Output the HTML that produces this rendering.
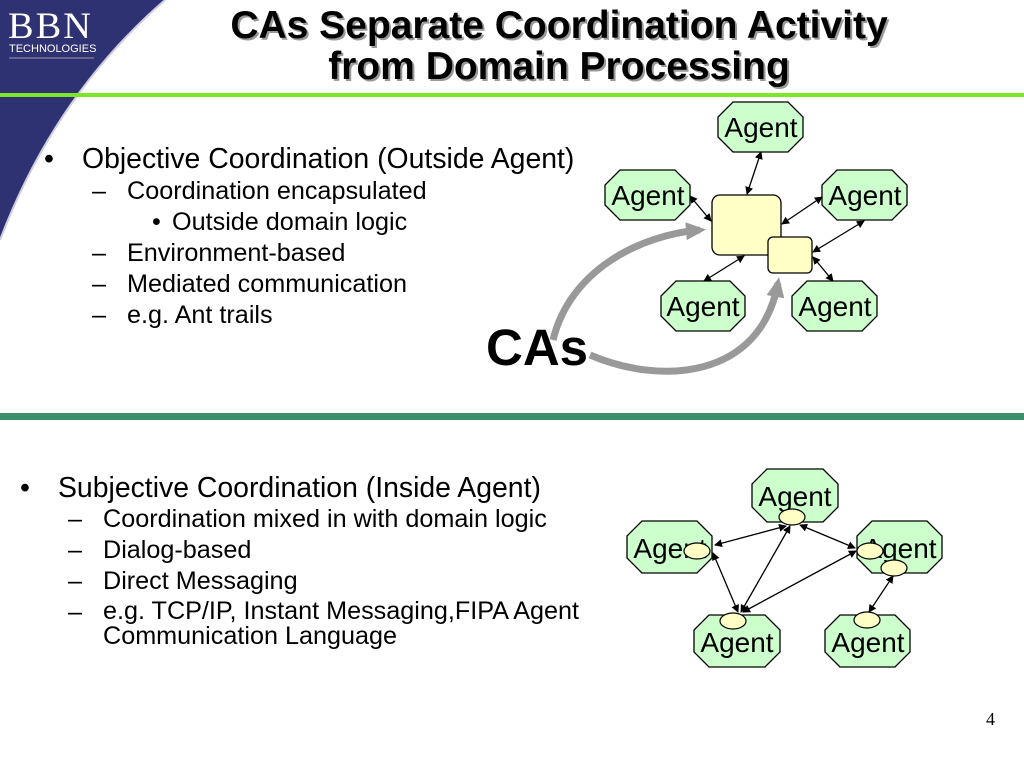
<!DOCTYPE html>
<html><head><meta charset="utf-8"><style>
body{margin:0;width:1024px;height:768px;background:#fff;position:relative;overflow:hidden;font-family:"Liberation Sans",Arial,sans-serif}
.t{position:absolute;white-space:nowrap;color:#000;line-height:1}
.a{font-size:28.4px}.b{font-size:25.2px}
</style></head><body>
<svg width="1024" height="768" style="position:absolute;left:0;top:0">
<defs>
<marker id="a" markerWidth="8" markerHeight="8" refX="7" refY="4" orient="auto-start-reverse" markerUnits="userSpaceOnUse"><path d="M0,0 L8,4 L0,8 z" fill="#000"/></marker>
<marker id="g" markerWidth="22" markerHeight="22" refX="14" refY="11" orient="auto" markerUnits="userSpaceOnUse"><path d="M0,2 L20,11 L0,20 z" fill="#999"/></marker>
</defs>
<path d="M0,0 L165,0 Q55,95 0,240 Z" fill="#2e3272"/>
<path d="M165,0 Q55,95 0,240" fill="none" stroke="#ccd" stroke-width="2"/>
<text x="8" y="38" fill="#fff" font-family="Liberation Serif" font-size="37" letter-spacing="2" textLength="85" lengthAdjust="spacingAndGlyphs">BBN</text>
<text x="9" y="52" fill="#fff" font-size="11">TECHNOLOGIES</text>
<line x1="9" y1="58" x2="94" y2="58" stroke="#99a" stroke-width="1"/>
<rect x="0" y="93" width="1024" height="4" fill="#7fe52a"/>
<rect x="0" y="413" width="1024" height="7" fill="#3f8f6c"/>
<g stroke="#000" stroke-width="1.3" fill="none" marker-start="url(#a)" marker-end="url(#a)">
<line x1="761" y1="152" x2="747" y2="194"/>
<line x1="690" y1="196" x2="711" y2="221"/>
<line x1="822" y1="197" x2="782" y2="224"/>
<line x1="864" y1="221" x2="813" y2="252"/>
<line x1="704" y1="281" x2="744" y2="256"/>
<line x1="813" y1="257" x2="833" y2="281"/>
</g>
<path d="M553,340 C570,270 640,235 700,230" fill="none" stroke="#999" stroke-width="7" marker-end="url(#g)"/>
<path d="M590,355 C660,385 760,380 778,283" fill="none" stroke="#999" stroke-width="7" marker-end="url(#g)"/>
<g fill="#ffffc6" stroke="#000" stroke-width="1.3">
<rect x="712" y="195" width="69" height="60" rx="8"/>
<rect x="768" y="237" width="44" height="36" rx="5"/>
</g>
<g fill="#ccffcc" stroke="#000" stroke-width="1.3">
<polygon points="733,102 788,102 803,117 803,137 788,152 733,152 718,137 718,117"/>
<polygon points="620,170 675,170 690,185 690,205 675,220 620,220 605,205 605,185"/>
<polygon points="837,170 892,170 907,185 907,205 892,220 837,220 822,205 822,185"/>
<polygon points="676,281 730,281 745,296 745,316 730,331 676,331 661,316 661,296"/>
<polygon points="807,281 862,281 877,296 877,316 862,331 807,331 792,316 792,296"/>
<polygon points="767,469 823,469 838,484 838,507 823,522 767,522 752,507 752,484"/>
<polygon points="642,521 697,521 712,536 712,558 697,573 642,573 627,558 627,536"/>
<polygon points="872,521 927,521 942,536 942,558 927,573 872,573 857,558 857,536"/>
<polygon points="709,615 765,615 780,630 780,652 765,667 709,667 694,652 694,630"/>
<polygon points="840,615 895,615 910,630 910,652 895,667 840,667 825,652 825,630"/>
</g>
<g font-size="28" text-anchor="middle" fill="#000">
<text x="761" y="137">Agent</text>
<text x="648" y="205">Agent</text>
<text x="865" y="205">Agent</text>
<text x="703" y="316">Agent</text>
<text x="835" y="316">Agent</text>
<text x="795" y="506">Agent</text>
<text x="670" y="558">Agent</text>
<text x="900" y="558">Agent</text>
<text x="737" y="652">Agent</text>
<text x="868" y="652">Agent</text>
</g>
<g stroke="#000" stroke-width="1.3" fill="none" marker-start="url(#a)" marker-end="url(#a)">
<line x1="786" y1="526" x2="715" y2="545"/>
<line x1="800" y1="525" x2="855" y2="548"/>
<line x1="713" y1="553" x2="738" y2="612"/>
<line x1="790" y1="526" x2="741" y2="612"/>
<line x1="856" y1="551" x2="743" y2="612"/>
<line x1="893" y1="576" x2="869" y2="612"/>
</g>
<g fill="#ffffc6" stroke="#000" stroke-width="1.2">
<ellipse cx="792" cy="517" rx="13" ry="8"/>
<ellipse cx="697" cy="551" rx="13" ry="8"/>
<ellipse cx="870" cy="551" rx="13" ry="8"/>
<ellipse cx="894" cy="568" rx="13" ry="8"/>
<ellipse cx="733" cy="621" rx="13" ry="8"/>
<ellipse cx="867" cy="620" rx="13" ry="8"/>
</g>
<g font-size="39" font-weight="bold" text-anchor="middle">
<text x="561" y="40" fill="#999">CAs Separate Coordination Activity</text>
<text x="561" y="81" fill="#999">from Domain Processing</text>
<text x="559" y="38" fill="#000">CAs Separate Coordination Activity</text>
<text x="559" y="79" fill="#000">from Domain Processing</text>
</g>
</svg>
<div class="t a" style="left:44px;top:145px">•</div>
<div class="t a" style="left:82px;top:145px">Objective Coordination (Outside Agent)</div>
<div class="t b" style="left:92px;top:179px">–</div>
<div class="t b" style="left:127px;top:179px">Coordination encapsulated</div>
<div class="t b" style="left:152px;top:210px">•</div>
<div class="t b" style="left:172px;top:210px">Outside domain logic</div>
<div class="t b" style="left:92px;top:241px">–</div>
<div class="t b" style="left:127px;top:241px">Environment-based</div>
<div class="t b" style="left:92px;top:272px">–</div>
<div class="t b" style="left:127px;top:272px">Mediated communication</div>
<div class="t b" style="left:92px;top:303px">–</div>
<div class="t b" style="left:127px;top:303px">e.g. Ant trails</div>
<div class="t" style="left:486px;top:322px;font-size:51px;font-weight:bold">CAs</div>
<div class="t a" style="left:20px;top:474px">•</div>
<div class="t a" style="left:58px;top:474px">Subjective Coordination (Inside Agent)</div>
<div class="t b" style="left:68px;top:507px">–</div>
<div class="t b" style="left:103px;top:507px">Coordination mixed in with domain logic</div>
<div class="t b" style="left:68px;top:538px">–</div>
<div class="t b" style="left:103px;top:538px">Dialog-based</div>
<div class="t b" style="left:68px;top:569px">–</div>
<div class="t b" style="left:103px;top:569px">Direct Messaging</div>
<div class="t b" style="left:68px;top:600px">–</div>
<div class="t b" style="left:103px;top:600px;line-height:25px;margin-top:-1px">e.g. TCP/IP, Instant Messaging,FIPA Agent<br>Communication Language</div>
<div class="t" style="left:986px;top:710px;font-size:18px;font-family:'Liberation Serif',serif">4</div>
</body></html>
